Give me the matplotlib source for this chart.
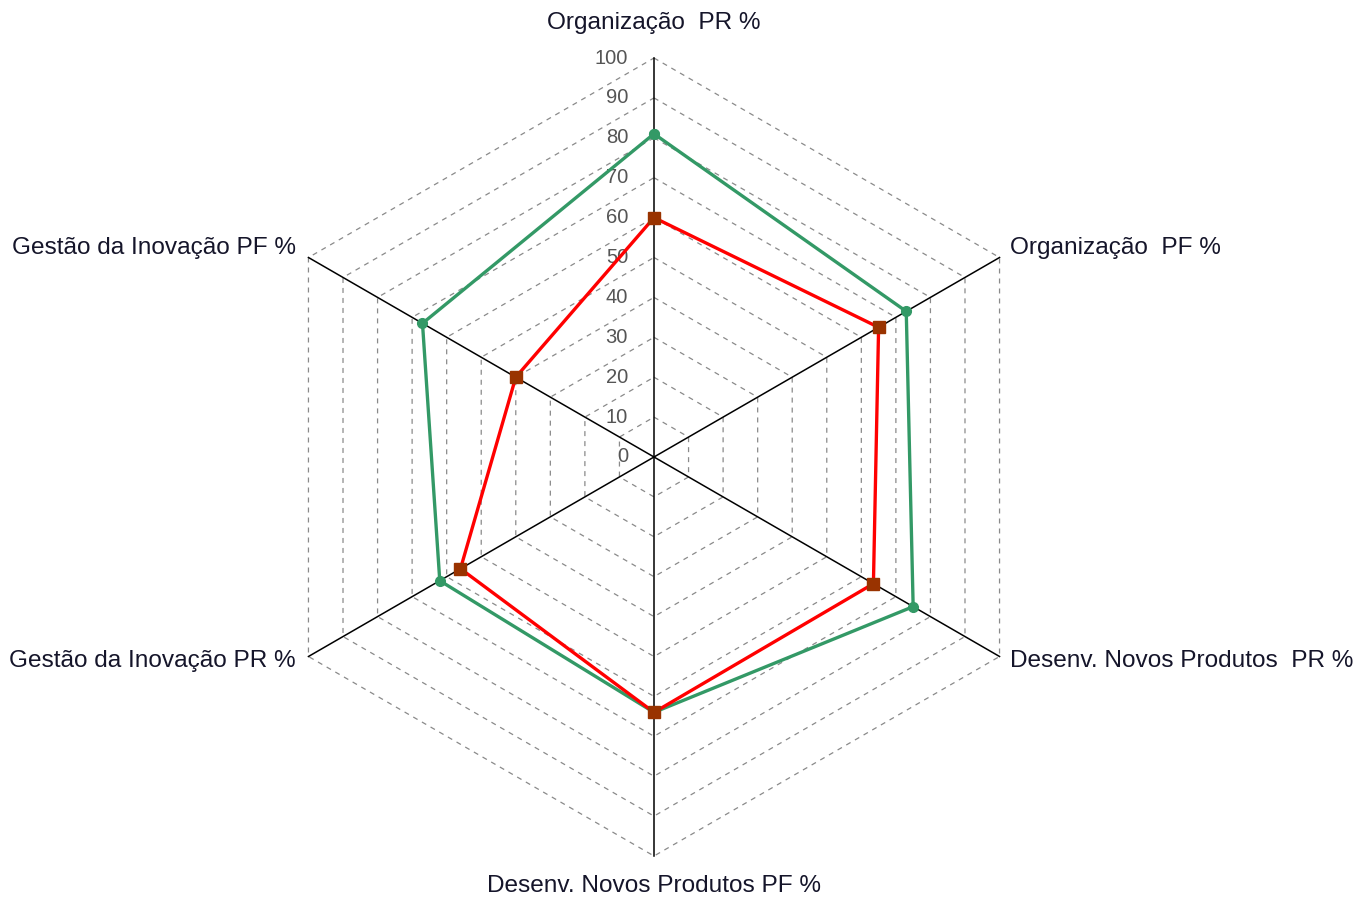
import numpy as np
import matplotlib
matplotlib.use("Agg")
import matplotlib.pyplot as plt

plt.rcParams['font.family'] = ['Liberation Sans', 'DejaVu Sans']

categories = ["Organização  PR %", "Organização  PF %", "Desenv. Novos Produtos  PR %",
              "Desenv. Novos Produtos PF %", "Gestão da Inovação PR %", "Gestão da Inovação PF %"]
green_values = [81, 73, 75, 64, 62, 67]
red_values = [60, 65, 63.5, 64, 56, 40]
ring_levels = [10, 20, 30, 40, 50, 60, 70, 80, 90, 100]
tick_labels = ["0", "10", "20", "30", "40", "50", "60", "70", "80", "90", "100"]

W, H = 1358, 898
fig = plt.figure(figsize=(W / 100, H / 100), dpi=100)
ax = fig.add_axes([0, 0, 1, 1])
scale = 3.99  # px per unit
cx, cy = 654, 457
ax.set_xlim(-cx / scale, (W - cx) / scale)
ax.set_ylim(-(H - cy) / scale, cy / scale)
ax.set_aspect('equal')
ax.axis('off')

angles = np.deg2rad([90, 30, -30, -90, -150, 150])

def xy(vals):
    v = np.asarray(vals, dtype=float)
    x = v * np.cos(angles)
    y = v * np.sin(angles)
    return np.append(x, x[0]), np.append(y, y[0])

# grid rings
for lv in ring_levels:
    x, y = xy([lv] * 6)
    ax.plot(x, y, color='#8a8a8a', lw=0.9, ls=(0, (4, 4)), zorder=1)

# spokes
for a in angles:
    ax.plot([0, 100 * np.cos(a)], [0, 100 * np.sin(a)], color='black', lw=1.1, zorder=2)

# tick labels
for i, t in enumerate(tick_labels):
    ax.text(-6.5, i * 10, t, ha='right', va='center', fontsize=14.5, color='#555555', zorder=3)

# series
gx, gy = xy(green_values)
ax.plot(gx, gy, color='#339966', lw=2.4, marker='o', ms=7, zorder=4)
rx, ry = xy(red_values)
ax.plot(rx, ry, color='#ff0000', lw=2.4, zorder=5)
ax.plot(rx[:-1], ry[:-1], ls='none', marker='s', ms=9, mfc='#993300', mec='#993300', zorder=6)

# category labels
def px(xp, yp):
    return (xp - cx) / scale, (cy - yp) / scale

fs = 17.6
lab_pos = [((654, 23), 'center'), ((1010, 248), 'left'), ((1010, 661), 'left'),
           ((654, 886), 'center'), ((296, 661), 'right'), ((296, 248), 'right')]
for name, ((xp, yp), ha) in zip(categories, lab_pos):
    x, y = px(xp, yp)
    ax.text(x, y, name, ha=ha, va='center', fontsize=fs, color='#15152a')

fig.savefig('out.png', dpi=100)
